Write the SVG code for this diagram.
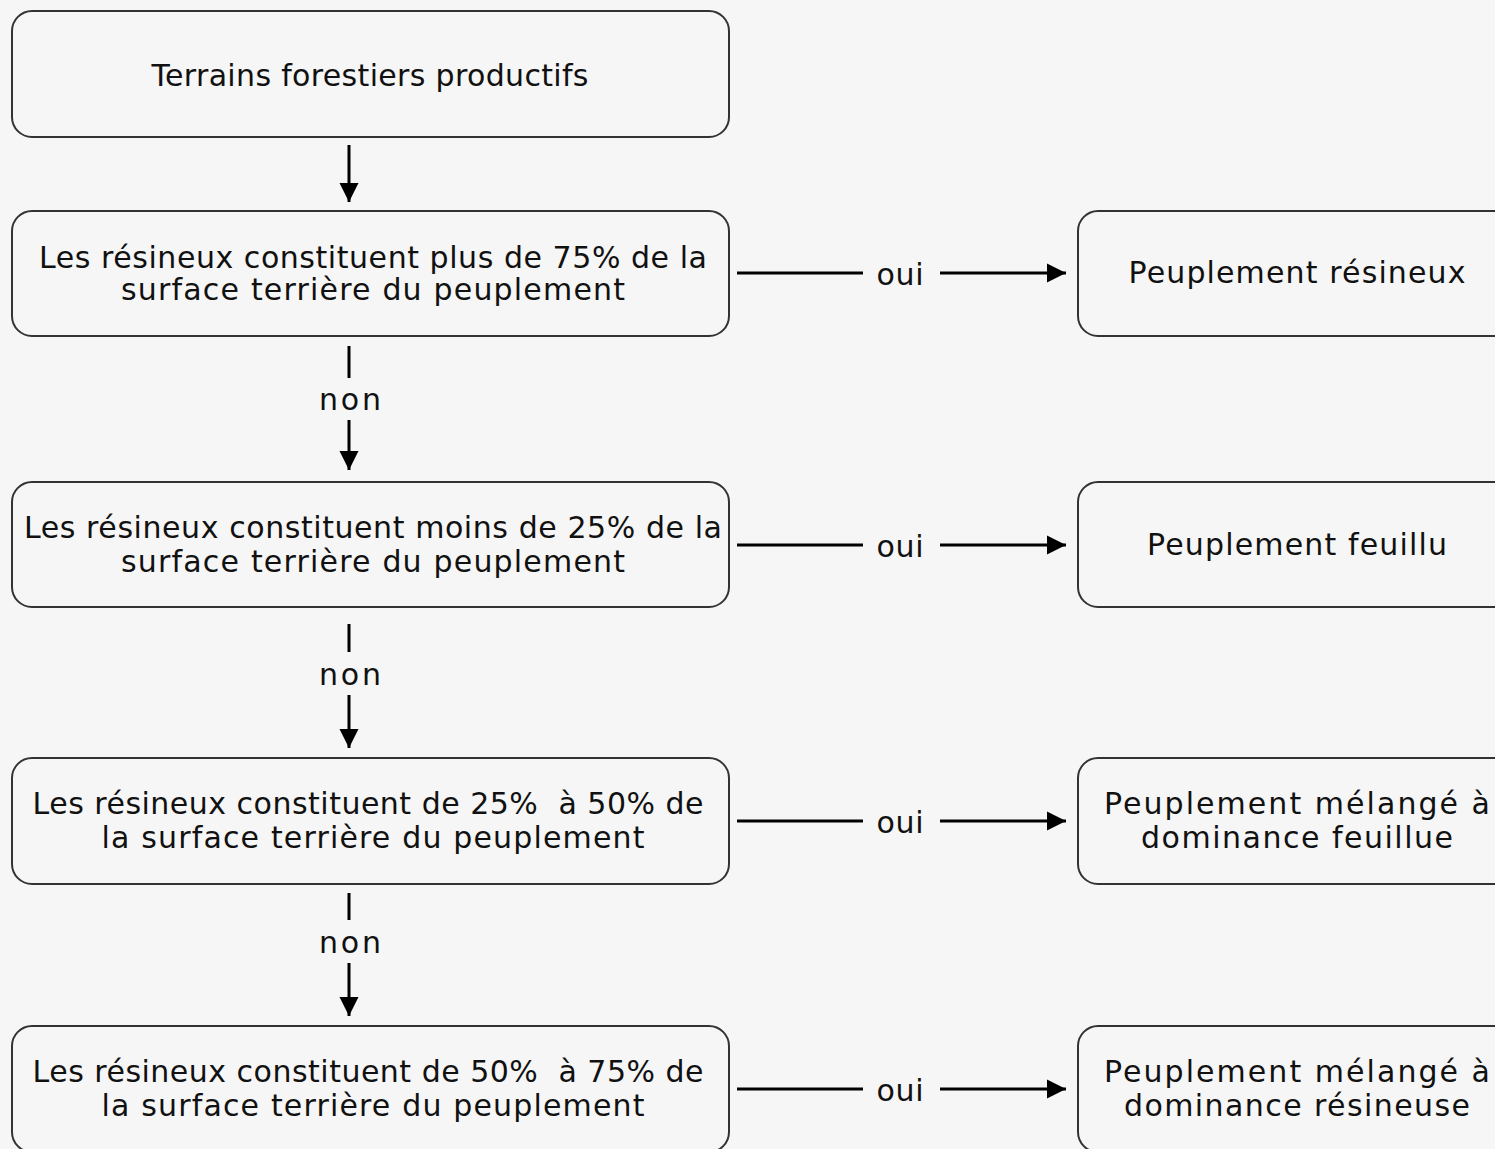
<svg xmlns="http://www.w3.org/2000/svg" width="1495" height="1149" viewBox="0 0 1495 1149">
<style>
.box{fill:#f6f6f6;stroke:#333;stroke-width:2}
.t{font-family:"DejaVu Sans",sans-serif;font-size:30px;fill:#111;text-anchor:middle}
.c{stroke:#000;stroke-width:3;fill:none}
</style>
<defs>
<marker id="ah" viewBox="0 0 10 10" refX="10" refY="5" markerWidth="6.5" markerHeight="6.5" markerUnits="strokeWidth" orient="auto">
<path d="M0,0 L10,5 L0,10 z" fill="#000"/>
</marker>
</defs>
<rect width="1495" height="1149" fill="#f6f6f6"/>
<g id="n1"><rect class="box" x="12" y="11" width="717" height="126" rx="20"/>
<text class="t" x="370" y="86" textLength="437">Terrains forestiers productifs</text></g>
<g id="n2"><rect class="box" x="12" y="211" width="717" height="125" rx="20"/>
<text class="t" x="373" y="268" textLength="668">Les résineux constituent plus de 75% de la</text>
<text class="t" x="373" y="300" textLength="504">surface terrière du peuplement</text></g>
<g id="n3"><rect class="box" x="12" y="482" width="717" height="125" rx="20"/>
<text class="t" x="373" y="538" textLength="698">Les résineux constituent moins de 25% de la</text>
<text class="t" x="373" y="572" textLength="504">surface terrière du peuplement</text></g>
<g id="n4"><rect class="box" x="12" y="758" width="717" height="126" rx="20"/>
<text class="t" x="368" y="814" textLength="671" xml:space="preserve">Les résineux constituent de 25%  à 50% de</text>
<text class="t" x="373" y="848" textLength="543">la surface terrière du peuplement</text></g>
<g id="n5"><rect class="box" x="12" y="1026" width="717" height="126" rx="20"/>
<text class="t" x="368" y="1082" textLength="671" xml:space="preserve">Les résineux constituent de 50%  à 75% de</text>
<text class="t" x="373" y="1116" textLength="543">la surface terrière du peuplement</text></g>
<g id="r1"><rect class="box" x="1078" y="211" width="440" height="125" rx="20"/>
<text class="t" x="1297" y="283" textLength="337">Peuplement résineux</text></g>
<g id="r2"><rect class="box" x="1078" y="482" width="440" height="125" rx="20"/>
<text class="t" x="1297" y="555" textLength="300">Peuplement feuillu</text></g>
<g id="r3"><rect class="box" x="1078" y="758" width="440" height="126" rx="20"/>
<text class="t" x="1297" y="814" textLength="386">Peuplement mélangé à</text>
<text class="t" x="1297" y="848" textLength="312">dominance feuillue</text></g>
<g id="r4"><rect class="box" x="1078" y="1026" width="440" height="126" rx="20"/>
<text class="t" x="1297" y="1082" textLength="386">Peuplement mélangé à</text>
<text class="t" x="1297" y="1116" textLength="346">dominance résineuse</text></g>
<g id="connectors">
<line class="c" x1="349" y1="145" x2="349" y2="202" marker-end="url(#ah)"/>
<line class="c" x1="349" y1="346" x2="349" y2="378"/>
<text class="t" x="350" y="410" textLength="62">non</text>
<line class="c" x1="349" y1="420" x2="349" y2="470" marker-end="url(#ah)"/>
<line class="c" x1="349" y1="624" x2="349" y2="652"/>
<text class="t" x="350" y="685" textLength="62">non</text>
<line class="c" x1="349" y1="695" x2="349" y2="748" marker-end="url(#ah)"/>
<line class="c" x1="349" y1="893" x2="349" y2="920"/>
<text class="t" x="350" y="953" textLength="62">non</text>
<line class="c" x1="349" y1="963" x2="349" y2="1016" marker-end="url(#ah)"/>
<line class="c" x1="737" y1="273" x2="863" y2="273"/>
<text class="t" x="900" y="285" textLength="47">oui</text>
<line class="c" x1="940" y1="273" x2="1066" y2="273" marker-end="url(#ah)"/>
<line class="c" x1="737" y1="545" x2="863" y2="545"/>
<text class="t" x="900" y="557" textLength="47">oui</text>
<line class="c" x1="940" y1="545" x2="1066" y2="545" marker-end="url(#ah)"/>
<line class="c" x1="737" y1="821" x2="863" y2="821"/>
<text class="t" x="900" y="833" textLength="47">oui</text>
<line class="c" x1="940" y1="821" x2="1066" y2="821" marker-end="url(#ah)"/>
<line class="c" x1="737" y1="1089" x2="863" y2="1089"/>
<text class="t" x="900" y="1101" textLength="47">oui</text>
<line class="c" x1="940" y1="1089" x2="1066" y2="1089" marker-end="url(#ah)"/>
</g>
</svg>
